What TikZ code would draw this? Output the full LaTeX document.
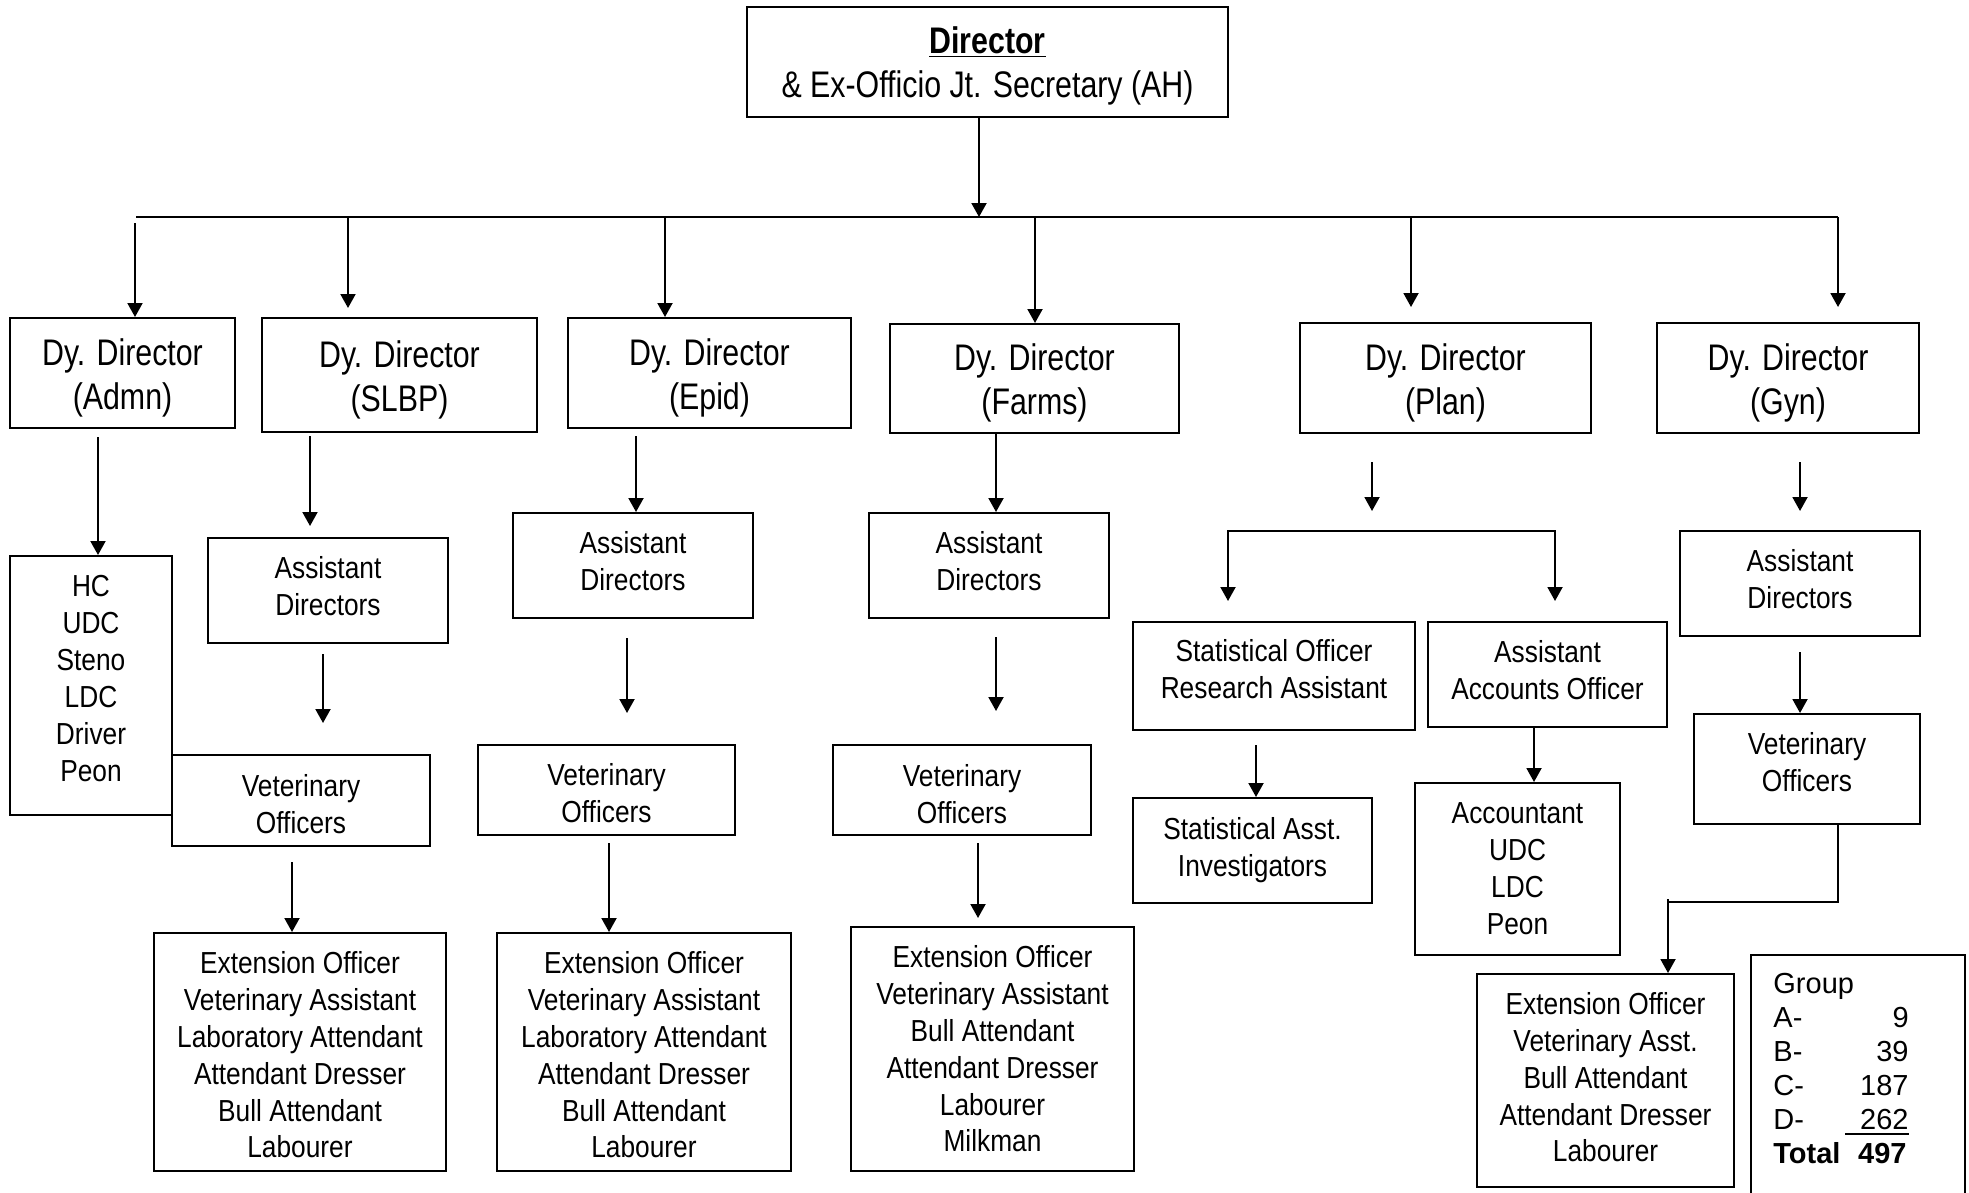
\documentclass[tikz,border=0pt]{standalone}
\usepackage{fontspec}
\setmainfont[FakeStretch=0.82]{Liberation Sans}
\newfontfamily\narrowfont[FakeStretch=0.865]{Liberation Sans}
\newfontfamily\widefont{Liberation Sans}
\usetikzlibrary{arrows.meta}
% framed box plus its text, the text shifted vertically by dy
% #1 text style, #2 name, #3 cx, #4 cy, #5 width, #6 height, #7 dy, #8 text
\newcommand\orgbox[8]{%
  \node[frame, sz={#5}{#6}] (#2) at (#3,#4) {};
  \node[#1] (#2-t) at (#3,{#4+(#7)}) {#8};}
\begin{document}
\begin{tikzpicture}[x=0.5pt,y=-0.5pt,
  frame/.style={draw, line width=1pt, inner sep=0pt},
  sz/.style 2 args={minimum width=#1*0.5pt, minimum height=#2*0.5pt},
  txt/.style={align=center, inner sep=0pt, font=\narrowfont\fontsize{15.2}{18.4}\selectfont},
  bigtxt/.style={align=center, inner sep=0pt, font=\fontsize{18.5}{22}\selectfont},
  link/.style={line width=1pt},
  arr/.style={link, -{Triangle[length=7pt,width=7.5pt]}},
  arrtwo/.style={link, {Triangle[length=7pt,width=7.5pt]}-{Triangle[length=7pt,width=7.5pt]}},
  grp/.style={inner sep=0pt, font=\widefont\fontsize{14.5}{17}\selectfont},
  grpbold/.style={grp, font=\widefont\bfseries\fontsize{14.5}{17}\selectfont}
]
\useasboundingbox (0,0) rectangle (1969,1193);

% ---- top level ----
\orgbox{bigtxt}{dir}{987.5}{62}{481}{110}{4}
  {\underline{\textbf{Director}}\\\& Ex-Officio Jt. Secretary (AH)}

% ---- deputy directors ----
\orgbox{bigtxt}{dadm}{122.5}{373}{225}{110}{4.5}{Dy. Director\\(Admn)}
\orgbox{bigtxt}{dslbp}{399.5}{375}{275}{114}{4.5}{Dy. Director\\(SLBP)}
\orgbox{bigtxt}{depid}{709.5}{373}{283}{110}{4.5}{Dy. Director\\(Epid)}
\orgbox{bigtxt}{dfarm}{1034.5}{378.5}{289}{109}{4.5}{Dy. Director\\(Farms)}
\orgbox{bigtxt}{dplan}{1445.5}{378}{291}{110}{4.5}{Dy. Director\\(Plan)}
\orgbox{bigtxt}{dgyn}{1788}{378}{262}{110}{4.5}{Dy. Director\\(Gyn)}

% distribution bus
\coordinate (bus)  at (979,217);
\coordinate (busL) at (136,217);
\coordinate (busR) at (1838,217);
\draw[arr] (dir.south -| bus) -- (bus);
\draw[link] (busL) -- (busR);

\coordinate (tA) at (135,223);
\coordinate (tS) at (348,217);  \coordinate (tSe) at (348,308);
\coordinate (tE) at (665,217);
\coordinate (tF) at (1035,217);
\coordinate (tP) at (1411,217); \coordinate (tPe) at (1411,307);
\coordinate (tG) at (1838,217); \coordinate (tGe) at (1838,307);
\draw[arr] (tA) -- (tA |- dadm.north);
\draw[arr] (tS) -- (tSe);
\draw[arr] (tE) -- (tE |- depid.north);
\draw[arr] (tF) -- (tF |- dfarm.north);
\draw[arr] (tP) -- (tPe);
\draw[arr] (tG) -- (tGe);

% ---- Admn ----
\orgbox{txt, font=\narrowfont\fontsize{15.2}{18.5}\selectfont}{hc}{91}{685.5}{162}{259}{-7}
  {HC\\UDC\\Steno\\LDC\\Driver\\Peon}
\coordinate (a1) at (98,437);
\draw[arr] (a1) -- (a1 |- hc.north);

% ---- SLBP ----
\orgbox{txt}{sad}{328}{590.5}{240}{105}{-4}{Assistant\\Directors}
\orgbox{txt}{svo}{301}{800.5}{258}{91}{4}{Veterinary\\Officers}
\orgbox{txt}{sext}{300}{1052}{292}{238}{3}
  {Extension Officer\\Veterinary Assistant\\Laboratory Attendant\\Attendant Dresser\\Bull Attendant\\Labourer}
\coordinate (s1) at (310,436); \coordinate (s1e) at (310,526);
\coordinate (s2) at (323,654); \coordinate (s2e) at (323,723);
\coordinate (s3) at (292,862);
\draw[arr] (s1) -- (s1e);
\draw[arr] (s2) -- (s2e);
\draw[arr] (s3) -- (s3 |- sext.north);

% ---- Epid ----
\orgbox{txt}{ead}{633}{565.5}{240}{105}{-4}{Assistant\\Directors}
\orgbox{txt}{evo}{606.5}{790}{257}{90}{3}{Veterinary\\Officers}
\orgbox{txt}{eext}{644}{1052}{294}{238}{3}
  {Extension Officer\\Veterinary Assistant\\Laboratory Attendant\\Attendant Dresser\\Bull Attendant\\Labourer}
\coordinate (e1) at (636,436);
\coordinate (e2) at (627,638); \coordinate (e2e) at (627,713);
\coordinate (e3) at (609,843);
\draw[arr] (e1) -- (e1 |- ead.north);
\draw[arr] (e2) -- (e2e);
\draw[arr] (e3) -- (e3 |- eext.north);

% ---- Farms ----
\orgbox{txt}{fad}{989}{565.5}{240}{105}{-4}{Assistant\\Directors}
\orgbox{txt}{fvo}{962}{790}{258}{90}{4}{Veterinary\\Officers}
\orgbox{txt}{fext}{992.5}{1049}{283}{244}{0}
  {Extension Officer\\Veterinary Assistant\\Bull Attendant\\Attendant Dresser\\Labourer\\Milkman}
\coordinate (f1) at (996,433);
\coordinate (f2) at (996,637); \coordinate (f2e) at (996,711);
\coordinate (f3) at (978,843); \coordinate (f3e) at (978,918);
\draw[arr] (f1 |- dfarm.south) -- (f1 |- fad.north);
\draw[arr] (f2) -- (f2e);
\draw[arr] (f3) -- (f3e);

% ---- Plan ----
\orgbox{txt}{so}{1274}{676}{282}{108}{-7}{Statistical Officer\\Research Assistant}
\orgbox{txt}{aao}{1547.5}{674.5}{239}{105}{-4}{Assistant\\Accounts Officer}
\orgbox{txt}{sa}{1252.5}{850.5}{239}{105}{0}{Statistical Asst.\\Investigators}
\orgbox{txt, font=\narrowfont\fontsize{15.2}{18.5}\selectfont}{acc}{1517.5}{869}{205}{172}{0}
  {Accountant\\UDC\\LDC\\Peon}
\coordinate (p1) at (1372,462); \coordinate (p1e) at (1372,511);
\coordinate (pl) at (1228,531); \coordinate (pr) at (1555,531);
\coordinate (plE) at (1228,601); \coordinate (prE) at (1555,601);
\coordinate (p2) at (1256,745);
\coordinate (p3) at (1534,727);
\draw[arr] (p1) -- (p1e);
\draw[arrtwo] (plE) -- (pl) -- (pr) -- (prE);
\draw[arr] (p2) -- (p2 |- sa.north);
\draw[arr] (p3 |- aao.south) -- (p3 |- acc.north);

% ---- Gyn ----
\orgbox{txt}{gad}{1800}{583.5}{240}{105}{-4.5}{Assistant\\Directors}
\orgbox{txt}{gvo}{1807}{769}{226}{110}{-7}{Veterinary\\Officers}
\orgbox{txt}{gext}{1605.5}{1080.5}{257}{213}{-3}
  {Extension Officer\\Veterinary Asst.\\Bull Attendant\\Attendant Dresser\\Labourer}
\coordinate (g1) at (1800,462); \coordinate (g1e) at (1800,511);
\coordinate (g2) at (1800,652);
\coordinate (g3) at (1838,824); \coordinate (g4) at (1838,902);
\coordinate (g5) at (1668,902); \coordinate (g6) at (1668,899);
\draw[arr] (g1) -- (g1e);
\draw[arr] (g2) -- (g2 |- gvo.north);
\draw[link] (g3 |- gvo.south) -- (g4) -- (g5);
\draw[arr] (g6) -- (g6 |- gext.north);

% ---- staff strength summary ----
\draw[link] (1751,1200) -- (1751,955) -- (1965,955) -- (1965,1200);
\node[grp, anchor=base west] (gh) at (1773,993) {Group};
\node[grp, anchor=base west] (ga) at (1773,1027) {A-};
\node[grp, anchor=base east] (gna) at (1909,1027) {9};
\node[grp, anchor=base west] (gb) at (1773,1061) {B-};
\node[grp, anchor=base east] (gnb) at (1909,1061) {39};
\node[grp, anchor=base west] (gc) at (1773,1095) {C-};
\node[grp, anchor=base east] (gnc) at (1909,1095) {187};
\node[grp, anchor=base west] (gd) at (1773,1129) {D-};
\node[grp, anchor=base east] (gnd) at (1909,1129) {262};
\draw[line width=0.7pt] (1845,1134) -- (1909,1134);
\node[grpbold, anchor=base west] (gt) at (1773,1163) {Total};
\node[grpbold, anchor=base east] (gnt) at (1907,1163) {497};
\end{tikzpicture}
\end{document}
